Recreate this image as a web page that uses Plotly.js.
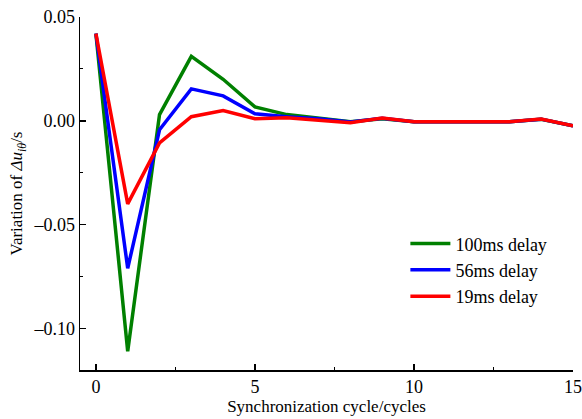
<!DOCTYPE html>
<html><head><meta charset="utf-8">
<script src="https://cdn.plot.ly/plotly-3.0.1.min.js"></script>
<style>
html,body{margin:0;padding:0;background:#fff}
#chart text{font-family:'Liberation Serif',serif !important;}
</style>
</head><body>
<div id="chart" style="width:582px;height:419px"></div>
<script>
const cycles = [0,1,2,3,4,5,6,7,8,9,10,11,12,13,14,15];
const delay100 = [0.042,-0.111,0.003,0.031,0.020,0.0067,0.003,0.0012,-0.0005,0.001,-0.0005,-0.0004,-0.0004,-0.0004,0.0007,-0.0024];
const delay56  = [0.042,-0.071,-0.0043,0.0154,0.012,0.0034,0.002,0.001,-0.0006,0.0012,-0.0005,-0.0004,-0.0004,-0.0004,0.0008,-0.0024];
const delay19  = [0.042,-0.040,-0.0106,0.002,0.005,0.001,0.0015,0.0005,-0.0009,0.0013,-0.0005,-0.0004,-0.0004,-0.0004,0.0009,-0.0024];
const names = ['100ms delay','56ms delay','19ms delay'];
const colors = ['#008000','#0000ff','#ff0000'];
const xTicks = [0,5,10,15];
const xTickText = ['0','5','10','15'];
const yTicks = [-0.10,-0.05,0,0.05];
const yTickText = ['\u20130.10','\u20130.05','0.00','0.05'];
const series = [delay100, delay56, delay19];
const traces = series.map((s,i)=>({x:cycles,y:s,type:'scatter',mode:'lines',name:names[i],
  line:{color:colors[i],width:3.5}}));
const layout = {
  width:582,height:419,
  margin:{l:80,r:9,t:17,b:49},
  paper_bgcolor:'#fff',plot_bgcolor:'#fff',
  font:{family:'Liberation Serif', size:18, color:'#000'},
  showlegend:true,
  legend:{x:0.66,y:0.41,xanchor:'left',yanchor:'top',bgcolor:'rgba(0,0,0,0)',
    tracegroupgap:0,itemwidth:40},
  xaxis:{range:[-0.5,15],tickvals:xTicks,ticktext:xTickText,
    ticks:'inside',ticklen:6,tickwidth:1.5,tickcolor:'#000',
    showline:true,linecolor:'#000',linewidth:1.5,showgrid:false,zeroline:false,
    minor:{tickvals:[2.5,7.5,12.5],ticks:'inside',ticklen:3,tickcolor:'#000',tickwidth:1},
    title:{text:'Synchronization cycle/cycles',font:{size:17},standoff:3}},
  yaxis:{range:[-0.12,0.05],tickvals:yTicks,ticktext:yTickText,
    ticks:'inside',ticklen:6,tickwidth:1.5,tickcolor:'#000',
    showline:true,linecolor:'#000',linewidth:1.5,showgrid:false,zeroline:false,
    minor:{tickvals:[-0.075,-0.025,0.025],ticks:'inside',ticklen:3,tickcolor:'#000',tickwidth:1},
    title:{text:'Variation of <i>\u0394u</i><sub><i>i\u03b8</i></sub>/s',font:{size:17},standoff:6}}
};
Plotly.newPlot('chart',traces,layout,{displayModeBar:false,staticPlot:true}).then(gd=>{
  return Plotly.relayout(gd,{'font.family':'Liberation Serif'});
});
</script>
</body></html>
